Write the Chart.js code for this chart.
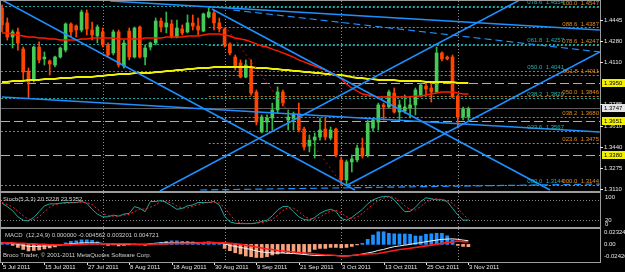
<!DOCTYPE html>
<html>
<head>
<meta charset="utf-8">
<script src="https://cdn.jsdelivr.net/npm/chart.js@4.4.1/dist/chart.umd.min.js"></script>
<style>
  html, body { margin: 0; padding: 0; background: #000; }
  #wrap { position: relative; width: 625px; height: 272px; background: #000; overflow: hidden; }
  canvas { position: absolute; left: 0; }
</style>
</head>
<body>
<div id="wrap">
  <canvas id="main" width="625" height="191" style="top:0"></canvas>
  <canvas id="stoch" width="625" height="37" style="top:191px"></canvas>
  <canvas id="macd" width="625" height="44" style="top:228px"></canvas>
</div>
<script>
// EURUSD daily, 5 Jul 2011 .. 3 Nov 2011 (bar index 0..88)
const opens = [1.4540,1.4422,1.4311,1.4351,1.4216,1.4043,1.3972,1.4232,1.4138,1.4122,
  1.4090,1.4153,1.4208,1.4414,1.4398,1.4366,1.4500,1.4366,1.4319,1.4351,
  1.4248,1.4185,1.4351,1.4082,1.4358,1.4153,1.4390,1.4153,1.4232,1.4264,
  1.4437,1.4390,1.4414,1.4311,1.4374,1.4351,1.4422,1.4398,1.4358,1.4469,
  1.4500,1.4422,1.4374,1.4256,1.4153,1.4106,1.3995,1.4066,1.3877,1.3562,
  1.3640,1.3672,1.3735,1.3877,1.3656,1.3664,1.3704,1.3585,1.3451,1.3498,
  1.3522,1.3585,1.3514,1.3585,1.3341,1.3183,1.3325,1.3341,1.3435,1.3380,
  1.3593,1.3640,1.3775,1.3759,1.3869,1.3719,1.3727,1.3751,1.3775,1.3853,
  1.3924,1.3909,1.3877,1.4185,1.4153,1.4153,1.3846,1.3680,1.3680];
const highs = [1.4564,1.4461,1.4366,1.4382,1.4232,1.4066,1.4240,1.4272,1.4193,1.4130,
  1.4161,1.4232,1.4422,1.4422,1.4406,1.4524,1.4524,1.4429,1.4406,1.4382,
  1.4264,1.4366,1.4366,1.4287,1.4382,1.4390,1.4398,1.4248,1.4272,1.4461,
  1.4461,1.4508,1.4445,1.4445,1.4406,1.4485,1.4485,1.4461,1.4500,1.4540,
  1.4524,1.4461,1.4382,1.4264,1.4169,1.4130,1.4130,1.4130,1.3893,1.3696,
  1.3696,1.3790,1.3917,1.3893,1.3735,1.3719,1.3790,1.3601,1.3538,1.3554,
  1.3672,1.3672,1.3601,1.3593,1.3364,1.3341,1.3380,1.3459,1.3514,1.3656,
  1.3672,1.3790,1.3790,1.3893,1.3909,1.3814,1.3853,1.3838,1.3909,1.3948,
  1.3948,1.3956,1.4232,1.4193,1.4161,1.4169,1.3853,1.3759,1.3759];
const lows = [1.4351,1.4287,1.4224,1.4208,1.3972,1.3830,1.3956,1.4106,1.4090,1.4011,
  1.4074,1.4145,1.4193,1.4311,1.4311,1.4351,1.4327,1.4287,1.4264,1.4232,
  1.4153,1.4169,1.4074,1.4066,1.4130,1.4145,1.4145,1.4090,1.4208,1.4248,
  1.4351,1.4343,1.4303,1.4303,1.4327,1.4343,1.4366,1.4327,1.4351,1.4461,
  1.4366,1.4351,1.4232,1.4169,1.4051,1.3988,1.3988,1.3853,1.3617,1.3554,
  1.3562,1.3577,1.3711,1.3767,1.3577,1.3577,1.3562,1.3420,1.3404,1.3356,
  1.3498,1.3498,1.3498,1.3364,1.3143,1.3140,1.3246,1.3325,1.3356,1.3364,
  1.3569,1.3577,1.3656,1.3751,1.3711,1.3656,1.3711,1.3672,1.3696,1.3838,
  1.3853,1.3798,1.3869,1.4122,1.4130,1.3830,1.3593,1.3656,1.3656];
const closes = [1.4406,1.4311,1.4351,1.4264,1.4035,1.3956,1.4232,1.4130,1.4153,1.4098,
  1.4153,1.4224,1.4414,1.4351,1.4366,1.4508,1.4374,1.4327,1.4390,1.4248,
  1.4169,1.4351,1.4090,1.4264,1.4153,1.4382,1.4153,1.4224,1.4264,1.4437,
  1.4390,1.4422,1.4311,1.4382,1.4343,1.4422,1.4398,1.4366,1.4493,1.4508,
  1.4422,1.4374,1.4248,1.4185,1.4074,1.3995,1.4090,1.3869,1.3640,1.3680,
  1.3672,1.3735,1.3877,1.3790,1.3680,1.3704,1.3577,1.3443,1.3498,1.3522,
  1.3577,1.3522,1.3577,1.3380,1.3183,1.3325,1.3349,1.3435,1.3372,1.3633,
  1.3656,1.3775,1.3759,1.3877,1.3719,1.3775,1.3759,1.3775,1.3893,1.3932,
  1.3901,1.3877,1.4185,1.4138,1.4138,1.3838,1.3680,1.3743,1.3747];

// red and yellow moving averages
const maRed = [1.4343,1.4343,1.4335,1.4327,1.4319,1.4311,1.4311,1.4303,1.4303,1.4295,
  1.4295,1.4287,1.4287,1.4287,1.4287,1.4295,1.4295,1.4303,1.4303,1.4303,
  1.4303,1.4303,1.4295,1.4295,1.4295,1.4295,1.4295,1.4303,1.4303,1.4303,
  1.4303,1.4311,1.4311,1.4311,1.4311,1.4319,1.4319,1.4319,1.4327,1.4335,
  1.4335,1.4335,1.4327,1.4319,1.4303,1.4295,1.4287,1.4272,1.4256,1.4240,
  1.4232,1.4216,1.4201,1.4185,1.4169,1.4153,1.4130,1.4114,1.4098,1.4082,
  1.4066,1.4051,1.4027,1.4011,1.3980,1.3940,1.3909,1.3885,1.3861,1.3853,
  1.3846,1.3838,1.3838,1.3838,1.3838,1.3838,1.3838,1.3838,1.3846,1.3846,
  1.3853,1.3861,1.3869,1.3877,1.3877,1.3877,1.3869,1.3861,1.3861];
const maYellow = [1.3956,1.3956,1.3964,1.3964,1.3964,1.3972,1.3972,1.3972,1.3980,1.3980,
  1.3980,1.3988,1.3988,1.3988,1.3995,1.3995,1.3995,1.3995,1.4003,1.4003,
  1.4011,1.4011,1.4019,1.4019,1.4019,1.4027,1.4027,1.4027,1.4027,1.4035,
  1.4035,1.4043,1.4043,1.4051,1.4051,1.4059,1.4059,1.4066,1.4066,1.4066,
  1.4074,1.4074,1.4074,1.4074,1.4074,1.4074,1.4074,1.4074,1.4066,1.4066,
  1.4066,1.4059,1.4059,1.4051,1.4051,1.4043,1.4043,1.4035,1.4035,1.4027,
  1.4027,1.4019,1.4019,1.4011,1.4011,1.4003,1.3995,1.3988,1.3988,1.3980,
  1.3980,1.3972,1.3972,1.3972,1.3972,1.3964,1.3964,1.3964,1.3964,1.3964,
  1.3956,1.3956,1.3956,1.3956,1.3956,1.3956,1.3948,1.3948,1.3948];

// Stoch(5,3,3)
const stochK = [70,60,48,30,20,18,28,45,62,68, 68,70,72,72,72,75,70,52,38,30,
  30,35,32,38,40,60,55,45,75,75, 78,72,62,52,55,62,65,72,72,72,
  75,65,32,15,11,10,10,10,12,16, 20,33,50,60,60,45,30,22,20,28,
  40,48,52,46,25,20,28,40,52,68, 80,86,90,90,80,62,45,46,58,75,
  86,83,80,80,75,55,35,20,20.5];
const stochD = [72,66,59,46,33,23,22,30,45,58, 66,69,70,71,72,73,72,66,53,40,
  33,32,32,35,37,46,52,53,58,65, 76,75,71,62,56,56,61,66,70,72,
  73,71,57,37,19,12,10,10,11,13, 16,23,34,48,57,55,45,32,24,23,
  29,39,47,49,41,30,24,29,40,53, 67,78,85,89,87,77,62,51,50,60,
  73,81,83,81,78,70,55,37,23.5];

// MACD(12,24,9)
const macdHist = [0.004,0.002,-0.002,-0.006,-0.010,-0.013,-0.012,-0.011,-0.009,-0.007,
  -0.005,-0.002,0.003,0.006,0.007,0.009,0.009,0.008,0.005,0.002,
  -0.002,-0.001,-0.003,-0.002,-0.001,0.001,-0.001,-0.002,0.001,0.003,
  0.004,0.006,0.007,0.007,0.006,0.006,0.005,0.004,0.004,0.005,
  0.003,0.001,-0.008,-0.0125,-0.0165,-0.019,-0.023,-0.0245,-0.026,-0.026,
  -0.0245,-0.021,-0.019,-0.0165,-0.0165,-0.0165,-0.018,-0.019,-0.015,-0.010,
  -0.008,-0.008,-0.006,-0.006,-0.007,-0.006,-0.004,-0.001,0.002,0.010,
  0.0186,0.025,0.025,0.022,0.021,0.0206,0.0206,0.020,0.0166,0.0166,
  0.020,0.021,0.022,0.022,0.017,0.0087,-0.002,-0.004,-0.0046];
const macdMain = [0.004,0.003,0.002,0.000,-0.002,-0.004,-0.004,-0.004,-0.003,-0.003,
  -0.002,-0.001,0.000,0.001,0.002,0.003,0.003,0.003,0.003,0.002,
  0.001,0.001,0.000,0.000,0.000,0.000,0.000,0.000,0.001,0.002,
  0.003,0.003,0.003,0.003,0.003,0.003,0.003,0.003,0.004,0.004,
  0.004,0.003,0.001,-0.002,-0.004,-0.006,-0.008,-0.010,-0.013,-0.015,
  -0.016,-0.017,-0.017,-0.017,-0.018,-0.018,-0.019,-0.020,-0.021,-0.022,
  -0.022,-0.022,-0.022,-0.022,-0.023,-0.023,-0.022,-0.021,-0.019,-0.017,
  -0.015,-0.012,-0.010,-0.007,-0.0045,-0.003,-0.0015,0.000,0.002,0.0035,
  0.0053,0.007,0.0085,0.010,0.0105,0.011,0.010,0.0085,0.0073];
const macdSignal = [0.003,0.003,0.003,0.002,0.002,0.001,0.001,0.000,0.000,-0.001,
  -0.001,-0.001,-0.001,-0.001,0.000,0.000,0.001,0.001,0.001,0.001,
  0.001,0.001,0.001,0.001,0.001,0.000,0.000,0.000,0.000,0.001,
  0.001,0.001,0.002,0.002,0.002,0.002,0.002,0.003,0.003,0.003,
  0.003,0.003,0.003,0.002,0.001,0.000,-0.002,-0.003,-0.005,-0.007,
  -0.009,-0.010,-0.012,-0.013,-0.014,-0.015,-0.016,-0.017,-0.018,-0.019,
  -0.020,-0.021,-0.021,-0.022,-0.023,-0.023,-0.022,-0.021,-0.020,-0.019,
  -0.0185,-0.018,-0.016,-0.014,-0.012,-0.010,-0.009,-0.0078,-0.006,-0.0045,
  -0.003,-0.0015,0.000,0.002,0.0035,0.005,0.0066,0.0055,0.0046];

// x axis
const dateTickIdx = [0,8,16,24,32,40,48,56,64,72,80,88];
const dateTickLabels = ['5 Jul 2011','15 Jul 2011','27 Jul 2011','8 Aug 2011','18 Aug 2011','30 Aug 2011',
  '9 Sep 2011','21 Sep 2011','3 Oct 2011','13 Oct 2011','25 Oct 2011','3 Nov 2011'];
const monthStartIdx = [19,42,64,86];

// price axis
const priceTicks = [1.4445,1.4280,1.4110,1.3785,1.3610,1.3440,1.3275,1.3110];
const hLinePrices = [1.3950,1.3651,1.3380];
const bidPrice = 1.3747;

// fibonacci objects
const tealFibLevels = ['078.6','061.8','050.0','038.2','023.6','000.0'];
const tealFibPrices = [1.4554,1.4257,1.4041,1.3829,1.3567,1.3144];
const orangeFibLevels = ['100.0','088.6','078.6','061.8','050.0','038.2','023.6','000.0'];
const orangeFibPrices = [1.4547,1.4387,1.4247,1.4011,1.3846,1.3680,1.3475,1.3144];
const orangeFibStart = 39;

// trendlines: [startIdx, startPrice, endIdx, endPrice]
const trendSolid = [
  [0, 1.4603, 66.6, 1.3104],
  [39.6, 1.4532, 103.4, 1.3104],
  [29.8, 1.3096, 97.7, 1.4603],
  [65, 1.3140, 112.8, 1.4193],
  [20.4, 1.4595, 112.8, 1.4366],
  [0, 1.3838, 112.8, 1.3562]
];
const trendDashed = [
  [43.6, 1.4524, 112.8, 1.4193],
  [37.4, 1.3104, 112.8, 1.3151]
];
const zigzag = [[42.6, 1.4366], [64.3, 1.3143]];

const X_MIN = -0.19, X_MAX = 112.83;
const FONT = '6px "Liberation Sans", Arial, sans-serif';
const FRAME = '#9c9c9c';
const UP = '#45c957', DOWN = '#ff4500';

const idx = closes.map((c, i) => i);
const up = idx.map(i => closes[i] >= opens[i]);

function xScale() {
  return { type: 'linear', display: false, min: X_MIN, max: X_MAX, offset: false, grid: { display: false } };
}

function vline(ctx, px, top, bottom) {
  ctx.beginPath(); ctx.moveTo(px, top); ctx.lineTo(px, bottom); ctx.stroke();
}

function drawSeparators(chart) {
  const { ctx, chartArea: a, scales: { x } } = chart;
  ctx.save();
  ctx.strokeStyle = '#8a8a8a'; ctx.lineWidth = 1; ctx.setLineDash([1, 2]);
  monthStartIdx.forEach(i => vline(ctx, Math.round(x.getPixelForValue(i)) + 0.5, a.top, a.bottom));
  ctx.restore();
}

function drawFrame(chart, topBand, bottomBand) {
  const { ctx, chartArea: a } = chart;
  ctx.save();
  ctx.fillStyle = FRAME;
  if (topBand) ctx.fillRect(0, 0, a.right + 1, topBand);
  if (bottomBand) ctx.fillRect(0, a.bottom, a.right + 1, bottomBand);
  ctx.fillRect(0, 0, 1, a.bottom);
  ctx.fillRect(a.right, 0, 1, a.bottom + (bottomBand || 0));
  ctx.restore();
}

function hline(ctx, chart, price, color, dash, fromPx) {
  const { chartArea: a, scales: { y } } = chart;
  const py = Math.round(y.getPixelForValue(price)) + 0.5;
  ctx.strokeStyle = color; ctx.setLineDash(dash);
  ctx.beginPath(); ctx.moveTo(fromPx, py); ctx.lineTo(a.right, py); ctx.stroke();
}

const mainOverlay = {
  id: 'mainOverlay',
  beforeDatasetsDraw(chart) {
    const { ctx, chartArea: a, scales: { x } } = chart;
    ctx.save();
    ctx.beginPath(); ctx.rect(a.left, a.top, a.right - a.left, a.bottom - a.top); ctx.clip();
    ctx.lineWidth = 1;
    drawSeparators(chart);
    hline(ctx, chart, bidPrice, '#5c5c5c', [], a.left);
    tealFibPrices.forEach(p => hline(ctx, chart, p, '#16a5a5', [2, 2], a.left));
    const ox = x.getPixelForValue(orangeFibStart);
    orangeFibPrices.forEach(p => hline(ctx, chart, p, '#c47a16', [2, 2], ox));
    hLinePrices.forEach(p => hline(ctx, chart, p, '#c8c400', [9, 4], a.left));
    ctx.restore();
  },
  afterDatasetsDraw(chart) {
    const { ctx, chartArea: a, scales: { y } } = chart;
    ctx.save();
    ctx.font = FONT; ctx.textBaseline = 'bottom'; ctx.textAlign = 'right';
    ctx.fillStyle = '#1fb3ad';
    tealFibPrices.forEach((p, k) => ctx.fillText(tealFibLevels[k] + '  ' + p.toFixed(4), a.right - 36, y.getPixelForValue(p) - 0.5));
    ctx.fillStyle = '#e08c1c';
    orangeFibPrices.forEach((p, k) => ctx.fillText(orangeFibLevels[k] + '  ' + p.toFixed(4), a.right - 1, y.getPixelForValue(p) - 0.5));
    ctx.restore();
  },
  afterDraw(chart) {
    const { ctx, chartArea: a, scales: { y } } = chart;
    drawFrame(chart, 1, 0);
    ctx.save();
    ctx.font = FONT; ctx.textBaseline = 'middle'; ctx.textAlign = 'left';
    ctx.fillStyle = '#e6e6e6';
    priceTicks.forEach(p => {
      const py = Math.round(y.getPixelForValue(p));
      ctx.fillRect(a.right, py, 3, 1);
      ctx.fillText(p.toFixed(4), a.right + 4, py + 0.5);
    });
    const box = (p, bg) => {
      const py = Math.round(y.getPixelForValue(p));
      ctx.fillStyle = bg; ctx.fillRect(a.right + 2, py - 4, 23, 8);
      ctx.fillStyle = '#000'; ctx.fillText(p.toFixed(4), a.right + 4, py + 0.5);
    };
    hLinePrices.forEach(p => box(p, '#f2f200'));
    box(bidPrice, '#e4e4e4');
    ctx.restore();
  }
};

const seg = (s) => [{ x: s[0], y: s[1] }, { x: s[2], y: s[3] }];
const trendSets = trendSolid.map(s => ({
  type: 'line', data: seg(s), borderColor: '#1e8fff', borderWidth: 1.6, pointRadius: 0, order: 1
})).concat(trendDashed.map(s => ({
  type: 'line', data: seg(s), borderColor: '#1e8fff', borderWidth: 1.2, borderDash: [7, 4], pointRadius: 0, order: 1
})));

new Chart(document.getElementById('main'), {
  data: {
    datasets: [
      { type: 'bar', data: idx.map(i => ({ x: i, y: [lows[i], highs[i]] })), grouped: false, barThickness: 1,
        backgroundColor: idx.map(i => up[i] ? '#34b84a' : DOWN), order: 11 },
      { type: 'bar', data: idx.map(i => ({ x: i, y: [opens[i], closes[i]] })), grouped: false, barThickness: 3,
        backgroundColor: idx.map(i => up[i] ? UP : DOWN), order: 10 },
      { type: 'line', data: idx.map(i => ({ x: i, y: maYellow[i] })), borderColor: '#f0f000', borderWidth: 2, pointRadius: 0, order: 5 },
      { type: 'line', data: idx.map(i => ({ x: i, y: maRed[i] })), borderColor: '#ff1a00', borderWidth: 1.4, pointRadius: 0, order: 4 },
      { type: 'line', data: [{ x: zigzag[0][0], y: zigzag[0][1] }, { x: zigzag[1][0], y: zigzag[1][1] }],
        borderColor: '#b81010', borderWidth: 1, borderDash: [2, 3], pointRadius: 0, order: 3 }
    ].concat(trendSets)
  },
  options: {
    responsive: false, animation: false, events: [],
    layout: { padding: { left: 1, right: 25, top: 1, bottom: 0 } },
    plugins: { legend: { display: false }, tooltip: { enabled: false } },
    scales: {
      x: xScale(),
      y: { type: 'linear', display: false, min: 1.3096, max: 1.4595 }
    }
  },
  plugins: [mainOverlay]
});

const stochOverlay = {
  id: 'stochOverlay',
  beforeDatasetsDraw(chart) {
    const { ctx, chartArea: a, scales: { y } } = chart;
    drawSeparators(chart);
    ctx.save();
    ctx.strokeStyle = '#8a8a8a'; ctx.lineWidth = 1; ctx.setLineDash([1, 2]);
    [80, 20].forEach(v => {
      const py = Math.round(y.getPixelForValue(v)) + 0.5;
      ctx.beginPath(); ctx.moveTo(a.left, py); ctx.lineTo(a.right, py); ctx.stroke();
    });
    ctx.restore();
  },
  afterDraw(chart) {
    const { ctx, chartArea: a, scales: { y } } = chart;
    drawFrame(chart, 2, 1);
    ctx.save();
    ctx.font = FONT; ctx.fillStyle = '#cfcfcf'; ctx.textAlign = 'left'; ctx.textBaseline = 'middle';
    ctx.fillText('Stoch(5,3,3) 20.5228 23.5352', 3, a.top + 6);
    ctx.fillStyle = '#e6e6e6';
    ctx.textBaseline = 'top'; ctx.fillText('100', a.right + 5, y.getPixelForValue(100) + 1);
    ctx.textBaseline = 'middle'; ctx.fillText('20', a.right + 5, y.getPixelForValue(20));
    ctx.textBaseline = 'bottom'; ctx.fillText('0', a.right + 5, y.getPixelForValue(0));
    ctx.restore();
  }
};

new Chart(document.getElementById('stoch'), {
  data: {
    datasets: [
      { type: 'line', data: idx.map(i => ({ x: i, y: stochD[i] })), borderColor: '#ff2020', borderWidth: 1, borderDash: [2, 2], pointRadius: 0 },
      { type: 'line', data: idx.map(i => ({ x: i, y: stochK[i] })), borderColor: '#1fa9a3', borderWidth: 1, pointRadius: 0 }
    ]
  },
  options: {
    responsive: false, animation: false, events: [],
    layout: { padding: { left: 1, right: 25, top: 2, bottom: 1 } },
    plugins: { legend: { display: false }, tooltip: { enabled: false } },
    scales: { x: xScale(), y: { type: 'linear', display: false, min: 0, max: 100 } }
  },
  plugins: [stochOverlay]
});

const macdOverlay = {
  id: 'macdOverlay',
  beforeDatasetsDraw(chart) { drawSeparators(chart); },
  afterDraw(chart) {
    const { ctx, chartArea: a, scales: { x, y } } = chart;
    drawFrame(chart, 1, 1);
    ctx.save();
    ctx.font = FONT; ctx.textAlign = 'left'; ctx.textBaseline = 'middle';
    ctx.fillStyle = '#cfcfcf';
    ctx.fillText('MACD  (12,24,9) 0.000000 -0.004562 0.003201 0.004721', 5, a.top + 6);
    ctx.fillText('Broco Trader, \u00a9 2001-2011 MetaQuotes Software Corp.', 3, a.top + 26);
    ctx.fillStyle = '#e6e6e6';
    [0.02324, 0, -0.02426].forEach(v => {
      ctx.fillText(v === 0 ? '0.00' : v.toFixed(5), a.right + 4, y.getPixelForValue(v));
    });
    dateTickIdx.forEach((i, k) => {
      const px = Math.round(x.getPixelForValue(i));
      ctx.fillRect(px, a.bottom + 1, 1, 2);
      ctx.fillText(dateTickLabels[k], px + 1, a.bottom + 5);
    });
    ctx.restore();
  }
};

new Chart(document.getElementById('macd'), {
  data: {
    datasets: [
      { type: 'line', data: idx.map(i => ({ x: i, y: macdSignal[i] })), borderColor: '#ff1a1a', borderWidth: 1.6, pointRadius: 0, order: 1 },
      { type: 'line', data: idx.map(i => ({ x: i, y: macdMain[i] })), borderColor: '#f2f2f2', borderWidth: 1, pointRadius: 0, order: 2 },
      { type: 'bar', data: idx.map(i => ({ x: i, y: [0, macdHist[i]] })), grouped: false, barThickness: 3,
        backgroundColor: idx.map(i => macdHist[i] >= 0 ? '#1e8fff' : '#f7a37e'), order: 3 }
    ]
  },
  options: {
    responsive: false, animation: false, events: [],
    layout: { padding: { left: 1, right: 25, top: 1, bottom: 10 } },
    plugins: { legend: { display: false }, tooltip: { enabled: false } },
    scales: { x: xScale(), y: { type: 'linear', display: false, min: -0.0349, max: 0.0305 } }
  },
  plugins: [macdOverlay]
});
</script>
</body>
</html>
